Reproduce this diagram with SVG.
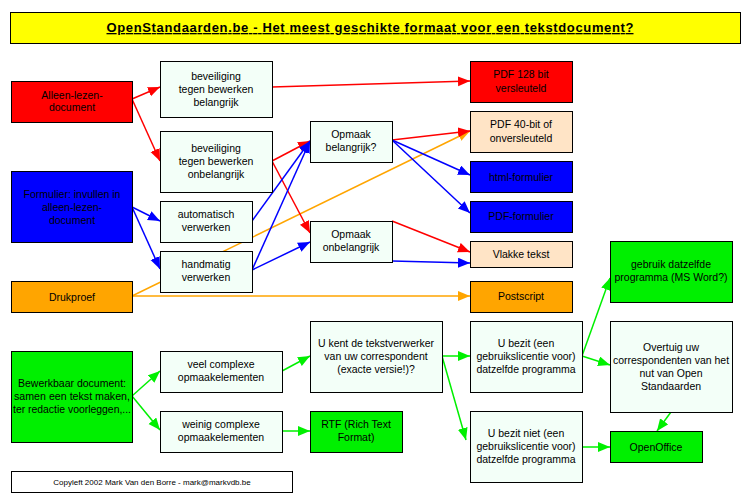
<svg xmlns="http://www.w3.org/2000/svg" width="743" height="503" viewBox="0 0 743 503">
<style>
text{font-family:"Liberation Sans",Arial,sans-serif;font-size:10.5px;fill:#000;text-anchor:middle}
.b{stroke:#000;stroke-width:1}
.pale{fill:#F3FFF8}.red{fill:#FF0000}.blue{fill:#0000FF}.org{fill:#FFA500}.peach{fill:#FFE4C6}.grn{fill:#00F000}.wht{fill:#fff}
.c{fill:none;stroke-width:1.5}
.cr{stroke:#FF0000}.cb{stroke:#0000FF}.co{stroke:#FFA500}.cg{stroke:#00F000}
</style>
<defs>
<marker id="ar" markerUnits="userSpaceOnUse" markerWidth="13" markerHeight="11" refX="12" refY="5" orient="auto"><path d="M0,0 L12,5 L0,10 z" fill="#FF0000"/></marker>
<marker id="ab" markerUnits="userSpaceOnUse" markerWidth="13" markerHeight="11" refX="12" refY="5" orient="auto"><path d="M0,0 L12,5 L0,10 z" fill="#0000FF"/></marker>
<marker id="ao" markerUnits="userSpaceOnUse" markerWidth="13" markerHeight="11" refX="12" refY="5" orient="auto"><path d="M0,0 L12,5 L0,10 z" fill="#FFA500"/></marker>
<marker id="ag" markerUnits="userSpaceOnUse" markerWidth="13" markerHeight="11" refX="12" refY="5" orient="auto"><path d="M0,0 L12,5 L0,10 z" fill="#00F000"/></marker>
</defs>
<rect width="743" height="503" fill="#fff"/>

<g id="connectors">
<line class="c co" x1="132" y1="296" x2="470" y2="131" marker-end="url(#ao)"/>
<line class="c co" x1="132" y1="296" x2="470" y2="296" marker-end="url(#ao)"/>
<line class="c cr" x1="132" y1="99" x2="160" y2="87" marker-end="url(#ar)"/>
<line class="c cr" x1="132" y1="99" x2="160" y2="161" marker-end="url(#ar)"/>
<line class="c cr" x1="272" y1="87" x2="470" y2="81" marker-end="url(#ar)"/>
<line class="c cr" x1="272" y1="161" x2="310" y2="141" marker-end="url(#ar)"/>
<line class="c cr" x1="272" y1="161" x2="310" y2="233" marker-end="url(#ar)"/>
<line class="c cr" x1="392" y1="140" x2="470" y2="131" marker-end="url(#ar)"/>
<line class="c cr" x1="392" y1="221" x2="470" y2="252" marker-end="url(#ar)"/>
<line class="c cb" x1="132" y1="207" x2="160" y2="221" marker-end="url(#ab)"/>
<line class="c cb" x1="132" y1="207" x2="160" y2="269" marker-end="url(#ab)"/>
<line class="c cb" x1="252" y1="221" x2="310" y2="141" marker-end="url(#ab)"/>
<line class="c cb" x1="252" y1="270" x2="310" y2="141" marker-end="url(#ab)"/>
<line class="c cb" x1="252" y1="270" x2="310" y2="242" marker-end="url(#ab)"/>
<line class="c cb" x1="392" y1="140" x2="470" y2="175" marker-end="url(#ab)"/>
<line class="c cb" x1="392" y1="140" x2="470" y2="213" marker-end="url(#ab)"/>
<line class="c cb" x1="392" y1="261" x2="470" y2="263" marker-end="url(#ab)"/>
<line class="c cg" x1="132" y1="396" x2="160" y2="371" marker-end="url(#ag)"/>
<line class="c cg" x1="132" y1="396" x2="160" y2="430" marker-end="url(#ag)"/>
<line class="c cg" x1="282" y1="371" x2="310" y2="356" marker-end="url(#ag)"/>
<line class="c cg" x1="282" y1="431" x2="310" y2="431" marker-end="url(#ag)"/>
<line class="c cg" x1="442" y1="356" x2="470" y2="356" marker-end="url(#ag)"/>
<line class="c cg" x1="442" y1="356" x2="466" y2="440" marker-end="url(#ag)"/>
<line class="c cg" x1="582" y1="356" x2="610" y2="278" marker-end="url(#ag)"/>
<line class="c cg" x1="582" y1="356" x2="610" y2="365" marker-end="url(#ag)"/>
<line class="c cg" x1="582" y1="447" x2="610" y2="447" marker-end="url(#ag)"/>
<line class="c cg" x1="671" y1="412" x2="657" y2="431" marker-end="url(#ag)"/>
</g>

<g id="title">
<rect x="10.5" y="12.5" width="730" height="31" fill="#FFFF00" class="b"/>
<text x="370" y="32" style="font-size:13px;font-weight:bold;text-decoration:underline" textLength="527" lengthAdjust="spacing">OpenStandaarden.be - Het meest geschikte formaat voor een tekstdocument?</text>
</g>

<g id="alleen-lezen"><rect x="11.5" y="81.5" width="121" height="41" class="b red"/>
<text x="72" y="99">Alleen-lezen-</text><text x="72" y="111">document</text></g>

<g id="formulier"><rect x="11.5" y="171.5" width="121" height="71" class="b blue"/>
<text x="72" y="198">Formulier: invullen in</text><text x="72" y="211">alleen-lezen-</text><text x="72" y="224">document</text></g>

<g id="drukproef"><rect x="11.5" y="281.5" width="121" height="31" class="b org"/>
<text x="72" y="301">Drukproef</text></g>

<g id="bewerkbaar"><rect x="11.5" y="351.5" width="121" height="91" class="b grn"/>
<text x="72" y="387">Bewerkbaar document:</text><text x="72" y="400" textLength="116" lengthAdjust="spacingAndGlyphs">samen een tekst maken,</text><text x="72" y="413" textLength="118" lengthAdjust="spacingAndGlyphs">ter redactie voorleggen,...</text></g>

<g id="bev-belangrijk"><rect x="160.5" y="61.5" width="112" height="56" class="b pale"/>
<text x="216" y="80">beveiliging</text><text x="216" y="93">tegen bewerken</text><text x="216" y="106">belangrijk</text></g>

<g id="bev-onbelangrijk"><rect x="160.5" y="131.5" width="112" height="61" class="b pale"/>
<text x="216" y="152">beveiliging</text><text x="216" y="165">tegen bewerken</text><text x="216" y="178">onbelangrijk</text></g>

<g id="automatisch"><rect x="160.5" y="201.5" width="92" height="41" class="b pale"/>
<text x="206" y="218">automatisch</text><text x="206" y="231">verwerken</text></g>

<g id="handmatig"><rect x="160.5" y="251.5" width="92" height="41" class="b pale"/>
<text x="206" y="268">handmatig</text><text x="206" y="281">verwerken</text></g>

<g id="veel"><rect x="160.5" y="351.5" width="122" height="41" class="b pale"/>
<text x="221" y="368">veel complexe</text><text x="221" y="381">opmaakelementen</text></g>

<g id="weinig"><rect x="160.5" y="411.5" width="122" height="41" class="b pale"/>
<text x="221" y="428">weinig complexe</text><text x="221" y="441">opmaakelementen</text></g>

<g id="copyleft"><rect x="11.5" y="471.5" width="281" height="21" class="b wht"/>
<text x="152" y="485" style="font-size:8px">Copyleft 2002 Mark Van den Borre - mark@markvdb.be</text></g>

<g id="opmaak-belangrijk"><rect x="310.5" y="121.5" width="82" height="41" class="b pale"/>
<text x="351" y="138">Opmaak</text><text x="351" y="151">belangrijk?</text></g>

<g id="opmaak-onbelangrijk"><rect x="310.5" y="221.5" width="82" height="41" class="b pale"/>
<text x="351" y="238">Opmaak</text><text x="351" y="251">onbelangrijk</text></g>

<g id="ukent"><rect x="310.5" y="321.5" width="132" height="71" class="b pale"/>
<text x="376" y="347">U kent de tekstverwerker</text><text x="376" y="360">van uw correspondent</text><text x="376" y="373">(exacte versie!)?</text></g>

<g id="rtf"><rect x="310.5" y="411.5" width="92" height="41" class="b grn"/>
<text x="356" y="428">RTF (Rich Text</text><text x="356" y="441">Format)</text></g>

<g id="pdf128"><rect x="470.5" y="61.5" width="102" height="41" class="b red"/>
<text x="521" y="78">PDF 128 bit</text><text x="521" y="92">versleuteld</text></g>

<g id="pdf40"><rect x="470.5" y="111.5" width="102" height="41" class="b peach"/>
<text x="521" y="128">PDF 40-bit of</text><text x="521" y="142">onversleuteld</text></g>

<g id="html"><rect x="470.5" y="161.5" width="102" height="31" class="b blue"/>
<text x="521" y="181">html-formulier</text></g>

<g id="pdfform"><rect x="470.5" y="201.5" width="102" height="31" class="b blue"/>
<text x="521" y="220">PDF-formulier</text></g>

<g id="vlakke"><rect x="470.5" y="241.5" width="102" height="26" class="b peach"/>
<text x="521" y="258">Vlakke tekst</text></g>

<g id="postscript"><rect x="470.5" y="281.5" width="102" height="31" class="b org"/>
<text x="521" y="300">Postscript</text></g>

<g id="ubezit"><rect x="470.5" y="321.5" width="112" height="71" class="b pale"/>
<text x="526" y="347">U bezit (een</text><text x="526" y="360">gebruikslicentie voor)</text><text x="526" y="373">datzelfde programma</text></g>

<g id="ubezitniet"><rect x="470.5" y="411.5" width="112" height="71" class="b pale"/>
<text x="526" y="437">U bezit niet (een</text><text x="526" y="450">gebruikslicentie voor)</text><text x="526" y="463">datzelfde programma</text></g>

<g id="gebruik"><rect x="610.5" y="241.5" width="122" height="61" class="b grn"/>
<text x="671" y="268">gebruik datzelfde</text><text x="671" y="281">programma (MS Word?)</text></g>

<g id="overtuig"><rect x="610.5" y="321.5" width="122" height="91" class="b pale"/>
<text x="671" y="351">Overtuig uw</text><text x="671" y="364">correspondenten van het</text><text x="671" y="377">nut van Open</text><text x="671" y="390">Standaarden</text></g>

<g id="openoffice"><rect x="610.5" y="431.5" width="92" height="31" class="b grn"/>
<text x="656" y="451">OpenOffice</text></g>
</svg>
